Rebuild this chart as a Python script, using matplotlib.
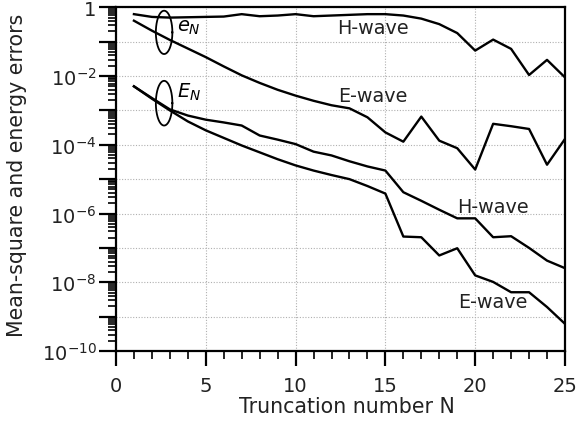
import numpy as np
import matplotlib
matplotlib.use("Agg")
import matplotlib.pyplot as plt
from matplotlib.ticker import FixedLocator, NullFormatter

plt.rcParams["font.family"] = ["DejaVu Sans"]
plt.rcParams["mathtext.fontset"] = "dejavusans"

# truncation number
n = np.arange(1, 26)

# log10 of errors
log_e_h = [-0.20, -0.28, -0.30, -0.29, -0.28, -0.27, -0.20, -0.26, -0.24, -0.20,
           -0.26, -0.24, -0.22, -0.20, -0.20, -0.24, -0.33, -0.49, -0.75, -1.26,
           -0.94, -1.21, -1.97, -1.53, -2.04]
log_e_e = [-0.39, -0.68, -0.95, -1.20, -1.45, -1.72, -1.98, -2.20, -2.40, -2.57,
           -2.72, -2.85, -2.94, -3.20, -3.64, -3.91, -3.18, -3.88, -4.10, -4.72,
           -3.39, -3.46, -3.54, -4.58, -3.83]
log_E_h = [-2.30, -2.64, -2.97, -3.15, -3.27, -3.35, -3.44, -3.73, -3.85, -3.98,
           -4.20, -4.31, -4.48, -4.63, -4.75, -5.38, -5.63, -5.89, -6.14, -6.14,
           -6.69, -6.66, -7.00, -7.37, -7.59]
log_E_e = [-2.30, -2.66, -3.00, -3.32, -3.58, -3.80, -4.02, -4.22, -4.42, -4.60,
           -4.75, -4.88, -5.00, -5.20, -5.42, -6.67, -6.69, -7.22, -7.01, -7.80,
           -7.99, -8.29, -8.29, -8.72, -9.21]

# ellipse markers (centre N, centre log10, half width N, half height in decades)
ellipses = [(2.68, -0.73, 0.46, 0.63), (2.68, -2.79, 0.46, 0.65)]

fig = plt.figure(figsize=(5.79, 4.27), dpi=100)
ax = fig.add_axes([0.2003, 0.1756, 0.7755, 0.805])

for logs in (log_e_h, log_e_e, log_E_h, log_E_e):
    ax.plot(n, 10.0 ** np.array(logs), color="black", lw=1.7)

t = np.linspace(0, 2 * np.pi, 200)
for cx, cy, a, b in ellipses:
    ax.plot(cx + a * np.cos(t), 10.0 ** (cy + b * np.sin(t)), color="black", lw=1.3)

ax.set_yscale("log")
ax.set_xlim(0, 25)
ax.set_ylim(1e-10, 1)

# ticks
ax.xaxis.set_major_locator(FixedLocator([0, 5, 10, 15, 20, 25]))
ax.xaxis.set_minor_locator(FixedLocator(np.arange(0, 26)))
decades = 10.0 ** np.arange(-10, 1)
ax.yaxis.set_major_locator(FixedLocator(decades))
minor = [m * d for d in decades[:-1] for m in range(2, 10)]
ax.yaxis.set_minor_locator(FixedLocator(minor))
ax.yaxis.set_minor_formatter(NullFormatter())
ylabels = []
for k in range(-10, 1):
    if k == 0:
        ylabels.append("1")
    elif k % 2 == 0:
        ylabels.append(r"$10^{%d}$" % k)
    else:
        ylabels.append("")
ax.set_yticklabels(ylabels)

ax.tick_params(which="major", direction="out", width=1.6, labelsize=14,
               top=False, right=False, labelcolor="#222222")
ax.tick_params(which="minor", direction="out", length=6, width=1.2,
               top=False, right=False)
ax.tick_params(axis="y", which="major", length=12, pad=2)
ax.tick_params(axis="x", which="major", length=11, pad=7)

for s in ax.spines.values():
    s.set_linewidth(1.6)

ax.grid(True, which="major", linestyle=(0, (1, 1.5)), color="#b0b0b0", lw=0.8)

# text labels
ax.text(3.4, 10 ** -0.55, r"$e_N$", fontsize=14, va="center", ha="left")
ax.text(3.4, 10 ** -2.46, r"$E_N$", fontsize=14, va="center", ha="left")
ax.text(14.3, 10 ** -0.58, "H-wave", fontsize=13.8, ha="center", va="center", color="#222222")
ax.text(14.3, 10 ** -2.57, "E-wave", fontsize=13.8, ha="center", va="center", color="#222222")
ax.text(21.0, 10 ** -5.81, "H-wave", fontsize=13.8, ha="center", va="center", color="#222222")
ax.text(21.0, 10 ** -8.55, "E-wave", fontsize=13.8, ha="center", va="center", color="#222222")

ax.set_xlabel("Truncation number N", fontsize=14.8, color="#222222")
ax.set_ylabel("Mean-square and energy errors", fontsize=14.8, color="#222222")
ax.xaxis.set_label_coords(0.515, -0.13)
ax.yaxis.set_label_coords(-0.198, 0.513)

fig.savefig("out.png", dpi=100)
